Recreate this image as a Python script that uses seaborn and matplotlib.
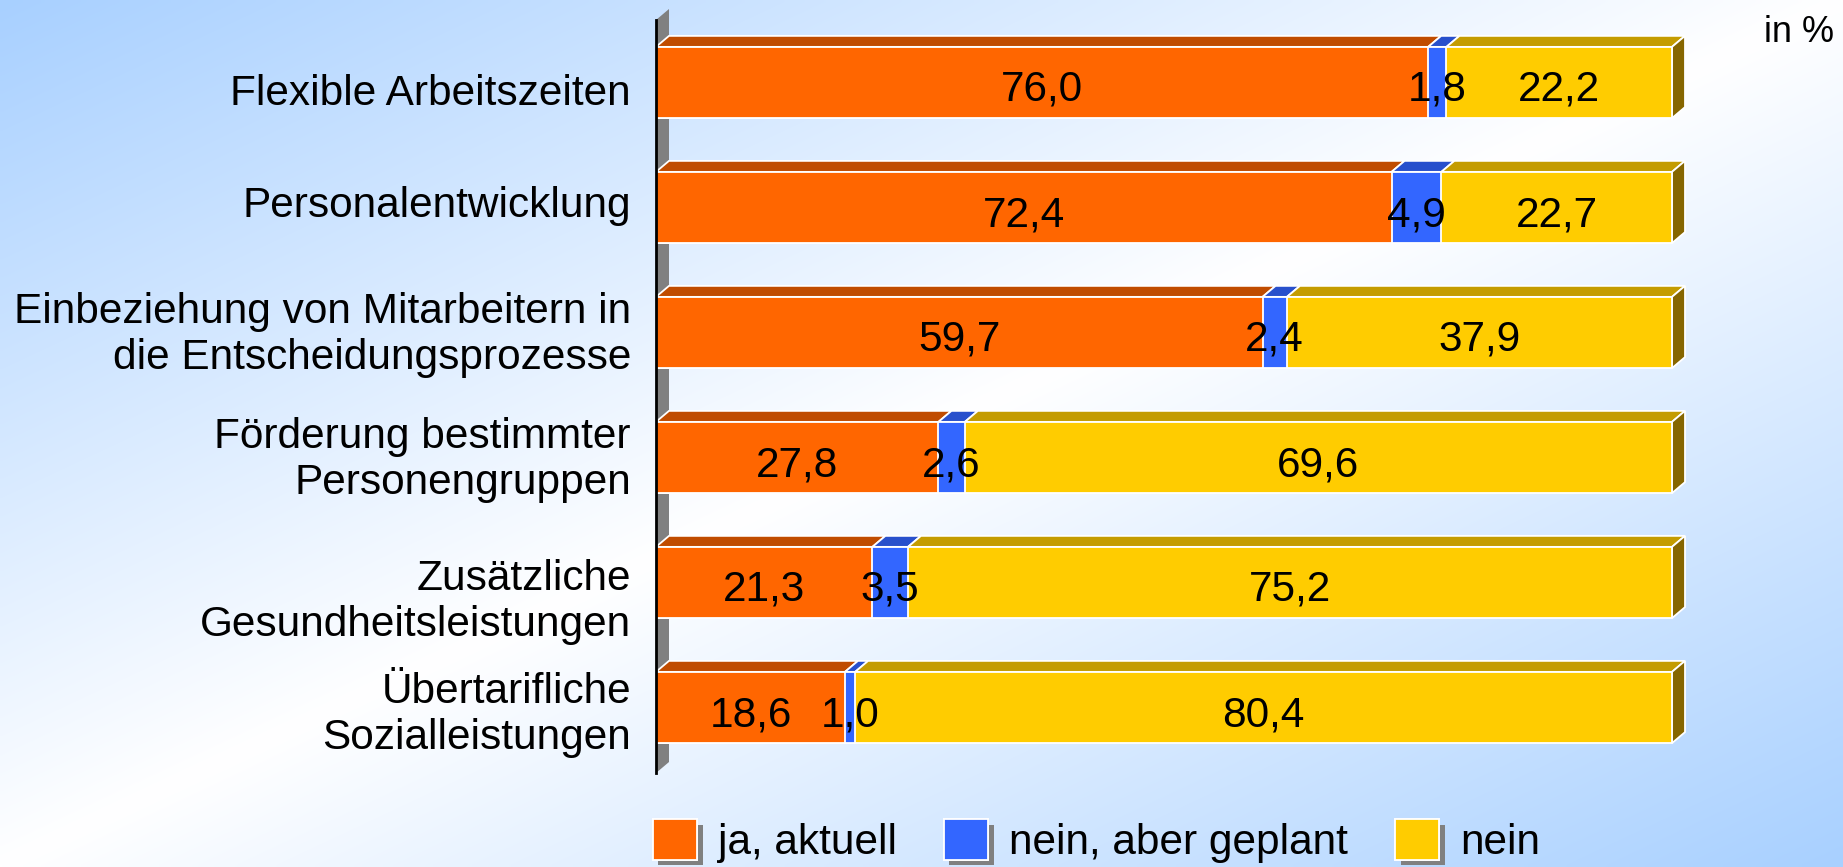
import numpy as np
import pandas as pd
import matplotlib.pyplot as plt
import matplotlib.patheffects as pe
import matplotlib.transforms as mtrans
from matplotlib.patches import Patch
import seaborn as sns

# values (in %)
categories = ["Flexible Arbeitszeiten",
              "Personalentwicklung",
              "Einbeziehung von Mitarbeitern in\ndie Entscheidungsprozesse",
              "Förderung bestimmter\nPersonengruppen",
              "Zusätzliche\nGesundheitsleistungen",
              "Übertarifliche\nSozialleistungen"]
ja_aktuell = [76.0, 72.4, 59.7, 27.8, 21.3, 18.6]
geplant = [1.8, 4.9, 2.4, 2.6, 3.5, 1.0]
nein = [22.2, 22.7, 37.9, 69.6, 75.2, 80.4]
series_names = ["ja, aktuell", "nein, aber geplant", "nein"]

front = ["#FF6600", "#3366FF", "#FFCC00"]
top = ["#C04C00", "#2850CC", "#C49C00"]
side = "#866600"

sns.set_style("white")
plt.rcParams["font.family"] = ["Liberation Sans", "DejaVu Sans"]
plt.rcParams["text.color"] = "black"
plt.rcParams["ytick.color"] = "black"
FS = 30.5

fig = plt.figure(figsize=(18.43, 8.67), dpi=100)

# diagonal background: blue top-left -> white middle -> blue bottom-right
bg = fig.add_axes([0, 0, 1, 1], zorder=0)
gx, gy = np.meshgrid(np.linspace(0, 1, 400), np.linspace(0, 1, 200))
t = np.abs((gx + gy) / 2 - 0.5) * 2
c_blue = np.array([168, 208, 255]) / 255
img = 1 - t[..., None] * (1 - c_blue)
bg.imshow(img, aspect="auto", extent=[0, 1, 1, 0], interpolation="bilinear")
bg.set_axis_off()

ax = fig.add_axes([656 / 1843, 1 - 773 / 867, 1117.6 / 1843, 753 / 867], zorder=1)
ax.patch.set_alpha(0)

df = pd.DataFrame({"cat": categories, "ja": ja_aktuell, "geplant": geplant, "nein": nein})
df["c2"] = df["ja"] + df["geplant"]
df["c3"] = df["c2"] + df["nein"]

h = 0.57
for col, colr in zip(["c3", "c2", "ja"], front[::-1]):
    sns.barplot(data=df, x=col, y="cat", color=colr, saturation=1, width=h,
                edgecolor="white", linewidth=1.3, ax=ax, zorder=3)

ax.set_xlim(0, 110)
ax.set_ylim(5.524, -0.5)

# 3D depth in data units
dx, dy = 1.28, 0.088

# grey side wall behind the bars
ax.fill([0, dx, dx, 0], [-0.5, -0.5 - dy, 5.524 - dy, 5.524],
        color="#808080", zorder=1, clip_on=False, lw=0)

for i in range(len(categories)):
    yt = i - h / 2
    yb = i + h / 2
    bounds = [0, ja_aktuell[i], ja_aktuell[i] + geplant[i], 100]
    for k in range(3):
        a, b = bounds[k], bounds[k + 1]
        ax.fill([a, b, b + dx, a + dx], [yt, yt, yt - dy, yt - dy],
                facecolor=top[k], edgecolor="white", lw=1.3, zorder=2, clip_on=False)
    ax.fill([100, 100 + dx, 100 + dx, 100], [yt, yt - dy, yb - dy, yb],
            facecolor=side, edgecolor="white", lw=1.3, zorder=2, clip_on=False)
    # value labels
    vals = [ja_aktuell[i], geplant[i], nein[i]]
    for k in range(3):
        cx = (bounds[k] + bounds[k + 1]) / 2
        ax.text(cx, i + 0.06, f"{vals[k]:.1f}".replace(".", ","), ha="center",
                va="center", fontsize=FS, color="black", zorder=5)

sns.despine(ax=ax, top=True, right=True, bottom=True, left=False)
ax.spines["left"].set_color("black")
ax.spines["left"].set_linewidth(2)
ax.spines["left"].set_zorder(4)
ax.set_xlabel("")
ax.set_ylabel("")
ax.set_xticks([])
ax.tick_params(axis="y", length=0, pad=18, labelsize=FS, labelcolor="black")

# the original category labels are not all exactly centred on their bars
label_shift = [7, -6, -5, -5, 12, 0]  # pixels, down
for lab, s in zip(ax.get_yticklabels(), label_shift):
    lab.set_linespacing(1.18)
    lab.set_transform(lab.get_transform() + mtrans.ScaledTranslation(0, -s / 100, fig.dpi_scale_trans))

fig.text(0.995, 0.963, "in %", ha="right", va="center", fontsize=26, color="black")

shadow = [pe.withSimplePatchShadow(offset=(4, -4), shadow_rgbFace="#808080", alpha=1), pe.Normal()]
handles = [Patch(facecolor=front[k], edgecolor="white", lw=1.3, label=series_names[k],
                 path_effects=shadow) for k in range(3)]
leg = fig.legend(handles=handles, loc="center", bbox_to_anchor=(0.595, 0.03), ncol=3,
                 frameon=False, fontsize=FS, handlelength=1.05, handleheight=1.1,
                 handletextpad=0.5, columnspacing=1.1, borderpad=0)
for txt in leg.get_texts():
    txt.set_color("black")

fig.savefig("out.png", dpi=100)
